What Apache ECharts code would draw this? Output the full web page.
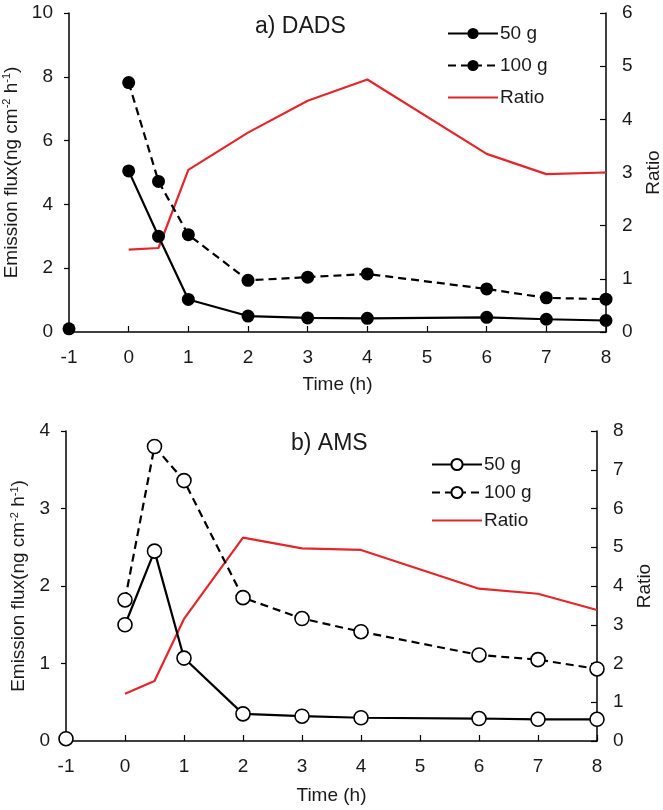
<!DOCTYPE html>
<html>
<head>
<meta charset="utf-8">
<script src="https://cdn.jsdelivr.net/npm/echarts@6/dist/echarts.min.js"></script>
<style>html,body{margin:0;padding:0;background:#fff}#c{width:663px;height:810px}</style>
</head>
<body>
<div id="c"></div>
<script>
var time = [0, 0.5, 1, 2, 3, 4, 6, 7, 8];
var dads50 = [5.05, 3.0, 1.02, 0.5, 0.44, 0.43, 0.46, 0.4, 0.36];
var dads100 = [7.82, 4.72, 3.05, 1.62, 1.72, 1.82, 1.35, 1.07, 1.03];
var dadsRatio = [1.55, 1.58, 3.05, 3.75, 4.35, 4.75, 3.35, 2.97, 3.0];
var dadsBackground = [[-1, 0.1]];
var ams50 = [1.5, 2.45, 1.07, 0.35, 0.32, 0.3, 0.29, 0.28, 0.28];
var ams100 = [1.82, 3.8, 3.36, 1.85, 1.58, 1.41, 1.11, 1.05, 0.93];
var amsRatio = [1.22, 1.55, 3.15, 5.25, 4.97, 4.93, 3.93, 3.8, 3.38];
var amsBackground = [[-1, 0.03]];

function pairs(v) { return time.map(function (t, i) { return [t, v[i]]; }); }

var FONT = 'Liberation Sans, Arial, sans-serif';
var TXT = '#1a1a1a';
var RED = '#e3262b';

function xAx(gi, gap) {
  return {
    type: 'value', gridIndex: gi, min: -1, max: 8, interval: 1,
    name: 'Time (h)', nameLocation: 'middle', nameGap: gap,
    nameTextStyle: { fontFamily: FONT, fontSize: 19, color: TXT },
    axisLine: { onZero: false, lineStyle: { color: '#000', width: 1.5 } },
    axisTick: { inside: true, length: 6, lineStyle: { color: '#000', width: 1.2 } },
    axisLabel: { fontFamily: FONT, fontSize: 19, color: TXT, margin: 16 },
    splitLine: { show: false }
  };
}
function yLeft(gi, max, interval, gap) {
  return {
    type: 'value', gridIndex: gi, position: 'left', min: 0, max: max, interval: interval,
    name: 'Emission flux(ng cm{s|-2} h{s|-1})', nameLocation: 'middle', nameGap: gap, nameRotate: 90,
    nameTextStyle: { fontFamily: FONT, fontSize: 19, color: TXT,
      rich: { s: { fontFamily: FONT, fontSize: 11, color: TXT, verticalAlign: 'top' } } },
    axisLine: { show: true, onZero: false, lineStyle: { color: '#000', width: 1.5 } },
    axisTick: { show: true, inside: false, length: 5, lineStyle: { color: '#000', width: 1.2 } },
    axisLabel: { fontFamily: FONT, fontSize: 19, color: TXT, margin: 16 },
    splitLine: { show: false }
  };
}
function yRight(gi, max, gap) {
  return {
    type: 'value', gridIndex: gi, position: 'right', min: 0, max: max, interval: 1,
    name: 'Ratio', nameLocation: 'middle', nameGap: gap, nameRotate: 90,
    nameTextStyle: { fontFamily: FONT, fontSize: 19, color: TXT },
    axisLine: { show: true, onZero: false, lineStyle: { color: '#000', width: 1.5 } },
    axisTick: { show: true, inside: true, length: 6, lineStyle: { color: '#000', width: 1.2 } },
    axisLabel: { fontFamily: FONT, fontSize: 19, color: TXT, margin: 16 },
    splitLine: { show: false }
  };
}
function lineSeries(name, data, xi, yi, dashed, filled) {
  return {
    type: 'line', name: name, xAxisIndex: xi, yAxisIndex: yi, data: pairs(data),
    symbol: 'circle', symbolSize: filled ? 13 : 14, z: 3,
    itemStyle: { color: filled ? '#000' : '#fff', borderColor: '#000', borderWidth: filled ? 0 : 1.6, opacity: 1 },
    lineStyle: { color: '#000', width: 2.2, type: dashed ? [8, 5] : 'solid' },
    animation: false
  };
}
function ratioSeries(name, data, xi, yi) {
  return {
    type: 'line', name: name, xAxisIndex: xi, yAxisIndex: yi, data: pairs(data),
    symbol: 'none', z: 2,
    itemStyle: { color: RED },
    lineStyle: { color: RED, width: 2.2 }, animation: false
  };
}
function bgSeries(data, xi, yi, filled) {
  return {
    type: 'scatter', name: 'bg' + xi, xAxisIndex: xi, yAxisIndex: yi, data: data,
    symbol: 'circle', symbolSize: filled ? 13 : 14, z: 4,
    itemStyle: { color: filled ? '#000' : '#fff', borderColor: '#000', borderWidth: filled ? 0 : 1.6, opacity: 1 },
    animation: false
  };
}

var chart = echarts.init(document.getElementById('c'), null, { renderer: 'canvas' });
chart.setOption({
  backgroundColor: '#fff',
  animation: false,
  title: [
    { text: 'a) DADS', left: 250, top: 10, textStyle: { fontFamily: FONT, fontSize: 23, fontWeight: 'normal', color: TXT } },
    { text: 'b) AMS', left: 286, top: 427, textStyle: { fontFamily: FONT, fontSize: 23, fontWeight: 'normal', color: TXT } }
  ],
  legend: [
    { orient: 'vertical', left: 442, top: 19, itemWidth: 50, itemHeight: 14, itemGap: 13,
      data: ['50 g', '100 g', { name: 'Ratio', itemStyle: { opacity: 0 } }],
      textStyle: { fontFamily: FONT, fontSize: 19, color: TXT, padding: [0, 0, 0, -3] } },
    { orient: 'vertical', left: 426, top: 450, itemWidth: 50, itemHeight: 14, itemGap: 9,
      data: ['50 g ', '100 g ', { name: 'Ratio ', itemStyle: { opacity: 0 } }],
      textStyle: { fontFamily: FONT, fontSize: 19, color: TXT, padding: [0, 0, 0, -3] } }
  ],
  grid: [
    { left: 69, right: 57, top: 13, bottom: 478, outerBoundsMode: 'none', containLabel: false },
    { left: 66, right: 66, top: 431, bottom: 69, outerBoundsMode: 'none', containLabel: false }
  ],
  xAxis: [xAx(0, 43), xAx(1, 45)],
  yAxis: [yLeft(0, 10, 2, 47), yRight(0, 6, 38), yLeft(1, 4, 1, 34), yRight(1, 8, 38)],
  series: [
    lineSeries('50 g', dads50, 0, 0, false, true),
    lineSeries('100 g', dads100, 0, 0, true, true),
    ratioSeries('Ratio', dadsRatio, 0, 1),
    bgSeries(dadsBackground, 0, 0, true),
    lineSeries('50 g ', ams50, 1, 2, false, false),
    lineSeries('100 g ', ams100, 1, 2, true, false),
    ratioSeries('Ratio ', amsRatio, 1, 3),
    bgSeries(amsBackground, 1, 2, false)
  ]
});
</script>
</body>
</html>
